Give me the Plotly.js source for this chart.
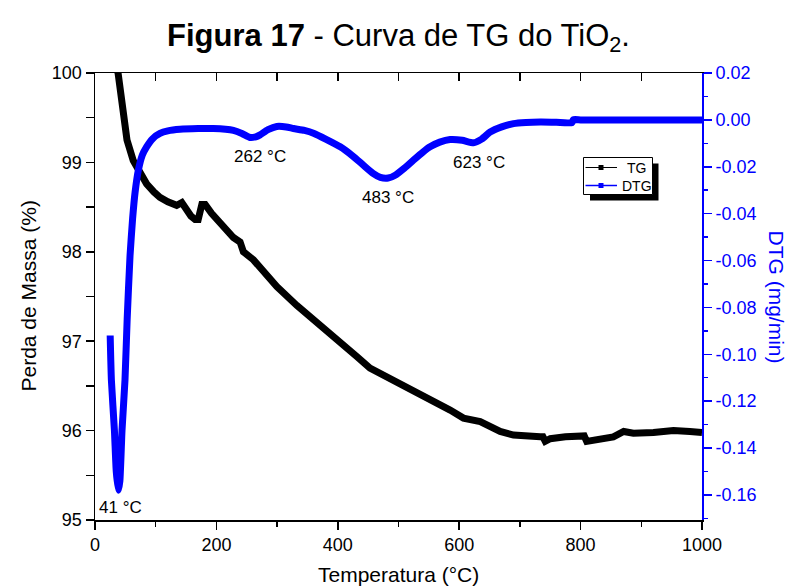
<!DOCTYPE html>
<html>
<head>
<meta charset="utf-8">
<script src="https://cdn.plot.ly/plotly-3.0.1.min.js"></script>
<style>html,body{margin:0;padding:0;background:#fff;}#chart{width:790px;height:587px;}</style>
</head>
<body>
<div id="chart"></div>
<script>
// ---- Data ----
const tgTemp = [25, 32, 38, 46.7, 52.7, 63, 72, 85, 97, 107, 120, 134.6, 143, 151, 158, 165, 170, 176, 181.5, 192, 206, 217, 228, 239, 244.5, 261, 277.4, 299.5, 332.5, 354, 387, 409, 431, 453, 481, 514, 552, 585, 607, 634.6, 667.5, 689.5, 733.5, 738, 741.7, 746, 750, 775, 802, 806, 810, 830, 854, 871, 887, 920, 953, 980, 1000];
const tgMass = [100.4, 100.12, 100.0, 99.58, 99.25, 99.02, 98.9, 98.76, 98.67, 98.61, 98.56, 98.52, 98.55, 98.45, 98.40, 98.36, 98.36, 98.53, 98.53, 98.43, 98.32, 98.26, 98.16, 98.11, 98.0, 97.91, 97.79, 97.61, 97.40, 97.27, 97.09, 96.96, 96.83, 96.70, 96.60, 96.49, 96.36, 96.23, 96.14, 96.10, 95.99, 95.95, 95.93, 95.93, 95.88, 95.89, 95.91, 95.93, 95.95, 95.94, 95.88, 95.90, 95.93, 95.99, 95.97, 95.98, 96.0, 95.99, 95.98];

const dtgTemp = [25, 27, 32, 35, 38.5, 41, 44.5, 49.4, 53, 57.7, 62, 66, 71.4, 78, 85, 95, 107, 120, 140, 170, 195, 215, 228, 242, 255.5, 265, 272, 285, 299.5, 315, 327, 345, 361, 380, 404, 425, 442, 458, 470, 483, 494.5, 510, 524.6, 540, 552, 568, 585, 605, 623.5, 637, 651, 670, 689.5, 710, 733.5, 760, 785.7, 788, 800, 830, 854, 900, 950, 1000];
const dtgRate = [-0.092, -0.111, -0.1325, -0.150, -0.158, -0.154, -0.1325, -0.111, -0.085, -0.058, -0.042, -0.031, -0.0215, -0.015, -0.0115, -0.008, -0.0058, -0.0047, -0.0040, -0.0037, -0.0037, -0.0040, -0.0045, -0.0058, -0.0075, -0.0072, -0.0064, -0.0042, -0.0028, -0.0030, -0.0037, -0.0045, -0.0058, -0.0082, -0.0115, -0.0155, -0.0193, -0.0228, -0.0245, -0.0248, -0.0236, -0.0205, -0.0172, -0.0138, -0.0115, -0.0095, -0.0084, -0.0087, -0.0098, -0.0082, -0.0052, -0.0030, -0.0016, -0.0011, -0.0009, -0.0010, -0.0012, 0.0001, 0.0, 0.0, 0.0, 0.0, 0.0, 0.0];

const rightTickVals = [0.02, 0.00, -0.02, -0.04, -0.06, -0.08, -0.10, -0.12, -0.14, -0.16];
const rightTickText = ["0.02", "0.00", "-0.02", "-0.04", "-0.06", "-0.08", "-0.10", "-0.12", "-0.14", "-0.16"];

const peakLabels = ["41 °C", "262 °C", "483 °C", "623 °C"];
const peakLabelX = [41.7, 271, 483, 633];
const peakLabelY = [-0.1653, -0.0158, -0.0332, -0.0183];

// ---- Layout helpers (pixel -> paper) ----
const W = 790, H = 587, ML = 95, MR = 88, MT = 73, MB = 67;
const PW = W - ML - MR, PH = H - MT - MB;
const px = x => (x - ML) / PW;
const py = y => (H - MB - y) / PH;

const FONT = "Liberation Sans, Arial, sans-serif";
const BLUE = "#0000ff";

const traces = [
  {x: tgTemp, y: tgMass, type: "scatter", mode: "lines", name: "TG",
   line: {color: "#000000", width: 7}, xaxis: "x", yaxis: "y", showlegend: false, hoverinfo: "skip"},
  {x: dtgTemp, y: dtgRate, type: "scatter", mode: "lines", name: "DTG",
   line: {color: BLUE, width: 7, shape: "spline", smoothing: 0.5}, xaxis: "x", yaxis: "y2", showlegend: false, hoverinfo: "skip"},
  {x: [0], y: [95], type: "scatter", mode: "markers", marker: {opacity: 0, size: 1}, xaxis: "x2", yaxis: "y", showlegend: false, hoverinfo: "skip"}
];

const annotations = peakLabels.map((t, i) => ({
  text: t, x: peakLabelX[i], y: peakLabelY[i], xref: "x", yref: "y2",
  showarrow: false, xanchor: "center", yanchor: "middle",
  font: {family: FONT, size: 17, color: "#000"}
}));
annotations.push(
  {text: "Temperatura (°C)", xref: "paper", yref: "paper", x: 0.5, y: py(574), showarrow: false,
   xanchor: "center", yanchor: "middle", font: {family: FONT, size: 21, color: "#000"}},
  {text: "Perda de Massa (%)", xref: "paper", yref: "paper", x: px(28), y: 0.5, showarrow: false, textangle: -90,
   xanchor: "center", yanchor: "middle", font: {family: FONT, size: 21, color: "#000"}},
  {text: "DTG (mg/min)", xref: "paper", yref: "paper", x: px(776), y: 0.5, showarrow: false, textangle: 90,
   xanchor: "center", yanchor: "middle", font: {family: FONT, size: 21, color: BLUE}},
  {text: "TG", xref: "paper", yref: "paper", x: px(625), y: py(167.5), showarrow: false,
   xanchor: "left", yanchor: "middle", font: {family: FONT, size: 14, color: "#000"}},
  {text: "DTG", xref: "paper", yref: "paper", x: px(619.5), y: py(185.5), showarrow: false,
   xanchor: "left", yanchor: "middle", font: {family: FONT, size: 14, color: "#000"}}
);

const shapes = [
  {type: "rect", xref: "paper", yref: "paper", x0: px(590), x1: px(658.5), y0: py(200.5), y1: py(163.5),
   fillcolor: "#000", line: {width: 0}},
  {type: "rect", xref: "paper", yref: "paper", x0: px(583.5), x1: px(652.5), y0: py(194.5), y1: py(157.5),
   fillcolor: "#fff", line: {color: "#000", width: 1}},
  {type: "line", xref: "paper", yref: "paper", x0: px(585.5), x1: px(617), y0: py(167.5), y1: py(167.5),
   line: {color: "#000", width: 1}},
  {type: "rect", xref: "paper", yref: "paper", x0: px(598.5), x1: px(603.5), y0: py(170), y1: py(165),
   fillcolor: "#000", line: {width: 0}},
  {type: "line", xref: "paper", yref: "paper", x0: px(585.5), x1: px(617), y0: py(185.5), y1: py(185.5),
   line: {color: BLUE, width: 1.5}},
  {type: "rect", xref: "paper", yref: "paper", x0: px(598.5), x1: px(603.5), y0: py(188), y1: py(183),
   fillcolor: BLUE, line: {width: 0}}
];

const layout = {
  width: W, height: H,
  margin: {l: ML, r: MR, t: MT, b: MB, pad: 0},
  paper_bgcolor: "#fff", plot_bgcolor: "#fff",
  font: {family: FONT, color: "#000"},
  showlegend: false,
  title: {text: "<b>Figura 17</b> - Curva de TG do TiO<sub>2</sub>.", x: 0.5, xref: "paper", xanchor: "center",
          y: 1 - 35 / H, yref: "container", yanchor: "middle",
          font: {family: FONT, size: 31, color: "#000"}},
  xaxis: {range: [0, 1000], tickmode: "linear", tick0: 0, dtick: 200, ticks: "outside", ticklen: 8, tickwidth: 1.5,
          tickcolor: "#000", showline: true, linecolor: "#000", linewidth: 1.5, showgrid: false, zeroline: false,
          tickfont: {family: FONT, size: 18, color: "#000"},
          minor: {dtick: 100, tick0: 0, ticks: "outside", ticklen: 5, tickwidth: 1.5, tickcolor: "#000", showgrid: false}},
  xaxis2: {range: [0, 1000], overlaying: "x", side: "top", anchor: "y", tickmode: "linear", tick0: 0, dtick: 100,
           ticks: "inside", ticklen: 8, tickwidth: 1.5, tickcolor: "#000", showticklabels: false,
           showline: true, linecolor: "#000", linewidth: 1.5, showgrid: false, zeroline: false},
  yaxis: {range: [95, 100], tickmode: "linear", tick0: 95, dtick: 1, ticks: "outside", ticklen: 8, tickwidth: 1.5,
          tickcolor: "#000", showline: true, linecolor: "#000", linewidth: 1.5, showgrid: false, zeroline: false,
          tickfont: {family: FONT, size: 18, color: "#000"},
          minor: {dtick: 0.5, tick0: 95, ticks: "outside", ticklen: 8, tickwidth: 1.5, tickcolor: "#000", showgrid: false}},
  yaxis2: {range: [-0.1707, 0.02], overlaying: "y", side: "right", anchor: "x",
           tickmode: "array", tickvals: rightTickVals, ticktext: rightTickText,
           ticks: "outside", ticklen: 8, tickwidth: 1.5, tickcolor: BLUE,
           showline: true, linecolor: BLUE, linewidth: 2, showgrid: false, zeroline: false,
           tickfont: {family: FONT, size: 18, color: BLUE},
           minor: {dtick: 0.01, tick0: 0, ticks: "outside", ticklen: 4, tickwidth: 1.5, tickcolor: BLUE, showgrid: false}},
  annotations: annotations,
  shapes: shapes
};

Plotly.newPlot("chart", traces, layout, {displayModeBar: false, staticPlot: true});
</script>
</body>
</html>
